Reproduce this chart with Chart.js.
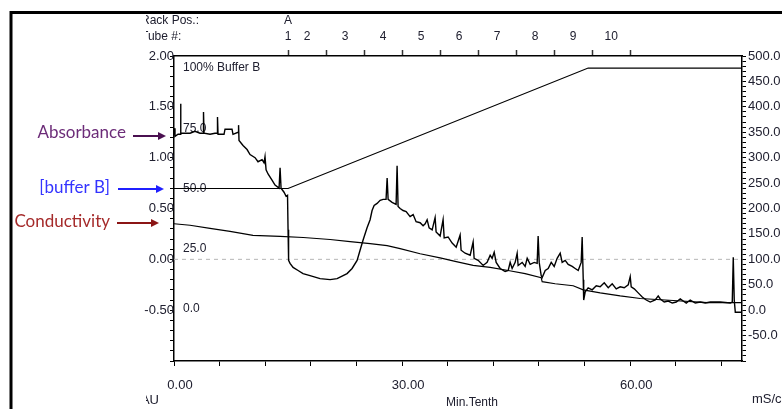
<!DOCTYPE html>
<html>
<head>
<meta charset="utf-8">
<title>Chromatogram</title>
<script src="https://cdn.jsdelivr.net/npm/chart.js@4.4.1/dist/chart.umd.min.js"></script>
<style>
  html, body { margin: 0; padding: 0; background: #fff; }
  #wrap { width: 782px; height: 409px; }
</style>
</head>
<body>
<div id="wrap"><canvas id="grafico" width="782" height="409"></canvas></div>
<script>
// Absorbancia (AU) frente al tiempo (Min.Tenth)
var tiempoAbs = [
    0, 0.13, 0.53, 0.79, 0.86, 0.92, 2.11, 2.76, 3.42, 3.82,
    3.88, 3.95, 4.74, 5.39, 5.66, 5.72, 5.79, 6.58, 6.71, 7.63,
    7.76, 8.42, 8.49, 8.55, 9.08, 9.61, 10.0, 10.66, 11.05, 11.58,
    11.84, 11.97, 12.11, 12.37, 12.89, 13.29, 13.82, 13.95, 14.08, 14.47,
    14.74, 14.93, 15.0, 15.07, 15.26, 15.66, 16.32, 16.97, 17.89, 19.21,
    20.53, 21.45, 22.24, 22.76, 23.42, 24.08, 24.47, 24.87, 25.39, 25.79,
    26.05, 26.32, 26.71, 27.11, 27.5, 27.89, 28.03, 28.16, 28.68, 29.21,
    29.34, 29.47, 29.74, 30.13, 30.53, 31.05, 31.45, 31.84, 32.37, 32.76,
    33.03, 33.29, 33.55, 33.95, 34.34, 34.47, 35.0, 35.39, 35.53, 36.05,
    36.58, 37.11, 37.63, 37.76, 38.29, 38.95, 39.34, 39.47, 40.0, 40.66,
    41.18, 41.58, 41.84, 42.11, 42.37, 42.89, 43.55, 43.95, 44.21, 44.47,
    44.87, 45.13, 45.26, 45.79, 46.18, 46.45, 46.84, 47.37, 47.76, 47.89,
    48.03, 48.29, 48.42, 48.82, 49.21, 49.61, 50.0, 50.39, 50.79, 51.05,
    51.45, 51.84, 52.37, 52.76, 53.16, 53.55, 53.68, 53.82, 53.88, 54.08,
    54.47, 55.0, 55.53, 56.05, 56.58, 57.11, 57.63, 58.16, 58.68, 59.21,
    59.74, 60.0, 60.13, 60.53, 61.05, 61.58, 62.11, 62.63, 63.29, 63.68,
    63.95, 64.47, 65.0, 65.53, 66.05, 66.58, 66.97, 67.37, 67.89, 68.55,
    69.21, 69.87, 70.53, 71.84, 73.16, 73.42, 73.55, 73.68, 73.82, 74.61
];
var absorbancia = [
    1.29, 1.21, 1.23, 1.23, 1.53, 1.24, 1.24, 1.26, 1.24, 1.24,
    1.45, 1.24, 1.23, 1.24, 1.24, 1.40, 1.23, 1.23, 1.28, 1.28,
    1.23, 1.25, 1.32, 1.17, 1.12, 1.08, 1.03, 1.00, 0.96, 0.98,
    0.95, 1.01, 0.88, 0.84, 0.78, 0.73, 0.70, 0.90, 0.70, 0.66,
    0.62, 0.63, 0.29, -0.01, -0.04, -0.08, -0.11, -0.14, -0.16, -0.19,
    -0.20, -0.19, -0.16, -0.14, -0.09, -0.01, 0.09, 0.19, 0.31, 0.39,
    0.48, 0.53, 0.55, 0.58, 0.59, 0.59, 0.80, 0.59, 0.56, 0.54,
    0.92, 0.52, 0.50, 0.48, 0.47, 0.42, 0.44, 0.37, 0.36, 0.33,
    0.35, 0.39, 0.31, 0.29, 0.41, 0.27, 0.23, 0.39, 0.21, 0.22,
    0.16, 0.12, 0.24, 0.09, 0.06, 0.04, 0.17, 0.01, -0.01, -0.06,
    -0.03, 0.04, 0.01, 0.07, -0.03, -0.09, -0.12, -0.11, -0.03, -0.09,
    -0.03, 0.06, -0.06, -0.03, -0.07, 0.01, -0.05, -0.03, -0.04, 0.23,
    -0.03, -0.16, -0.18, -0.11, -0.09, -0.03, -0.07, 0.01, 0.06, -0.03,
    -0.01, -0.05, -0.07, -0.09, -0.11, -0.03, 0.22, -0.20, -0.40, -0.32,
    -0.28, -0.30, -0.26, -0.27, -0.23, -0.28, -0.24, -0.29, -0.27, -0.28,
    -0.25, -0.17, -0.27, -0.29, -0.33, -0.37, -0.40, -0.42, -0.40, -0.36,
    -0.39, -0.42, -0.41, -0.43, -0.42, -0.39, -0.41, -0.43, -0.40, -0.43,
    -0.42, -0.43, -0.42, -0.42, -0.43, -0.42, 0.02, -0.40, -0.52, -0.52
];

// Conductividad (mS/cm)
var tiempoCond = [0, 2.11, 4.74, 7.37, 10.39, 13.95, 17.0, 20.53, 23.16, 25.79,
    28.03, 29.74, 32.37, 35.0, 36.97, 39.34, 41.58, 43.95, 46.18, 48.29,
    48.42, 50.13, 52.5, 53.82, 56.05, 58.68, 61.32, 65.66, 70.13, 74.61];
var conductividad = [170, 167, 161, 155, 147, 145, 143, 139, 135, 131,
    127, 121, 111, 103, 96, 88, 84, 78, 72, 64,
    56, 52, 48, 40, 34, 28, 23, 19, 15, 15];

// Gradiente de buffer B (%)
var tiempoGrad = [0, 15.0, 54.47, 74.61];
var bufferB = [50, 50, 100, 100];

// Linea de referencia punteada en 0.00 AU
var tiempoCero = [0, 74.7];
var valorCero = [0, 0];

// Ticks y etiquetas
var ticksX = [0, 6, 12, 18, 24, 30, 36, 42, 48, 54, 60, 66, 72];
var etiquetasX = [0, 30, 60];
var etiquetasAU = [-0.5, 0, 0.5, 1, 1.5, 2];
var etiquetasMS = [-50, 0, 50, 100, 150, 200, 250, 300, 350, 400, 450, 500];
var ticksB = [0, 25, 50, 75, 100];
var etiquetasB = ['0.0', '25.0', '50.0', '75.0', '100% Buffer B'];
var ticksTubo = [15, 17.5, 20, 22.5, 25, 27.5, 30, 32.5, 35, 37.5, 40, 42.5, 45, 47.5, 50, 52.5, 55, 57.5, 60];
var etiquetasTubo = ['1', '2', '', '3', '', '4', '', '5', '', '6', '', '7', '', '8', '', '9', '', '10', ''];
var marcasTubo = [15, 20, 25, 30, 35, 40, 45, 50, 55, 60];
var rackPos = 'A';
var rackValor = 15;

var xMax = 74.7;
var colorTexto = '#202030';

Chart.defaults.font.family = '"Liberation Sans", Arial, sans-serif';

function puntos(tiempos, valores) {
    return tiempos.map(function (t, i) { return { x: t, y: valores[i] }; });
}

function fijarTicks(lista) {
    return function (escala) {
        escala.ticks = lista.map(function (v) { return { value: v }; });
    };
}

// Flecha horizontal con punta
function flecha(ctx, x1, x2, y, color) {
    ctx.strokeStyle = color;
    ctx.fillStyle = color;
    ctx.lineWidth = 2;
    ctx.beginPath();
    ctx.moveTo(x1, y);
    ctx.lineTo(x2 - 6, y);
    ctx.stroke();
    ctx.beginPath();
    ctx.moveTo(x2, y);
    ctx.lineTo(x2 - 8, y - 4);
    ctx.lineTo(x2 - 8, y + 4);
    ctx.closePath();
    ctx.fill();
}

// Plugin para textos, marco y anotaciones
var textosPlugin = {
    id: 'textos',
    afterDraw: function (chart) {
        var ctx = chart.ctx;
        var xTop = chart.scales.xTop;
        ctx.save();

        // marco negro
        ctx.strokeStyle = '#000';
        ctx.lineWidth = 3;
        ctx.beginPath();
        ctx.moveTo(11, 409);
        ctx.lineTo(11, 12.5);
        ctx.lineTo(782, 12.5);
        ctx.stroke();

        ctx.fillStyle = colorTexto;
        ctx.textBaseline = 'middle';

        // textos cortados a la izquierda
        ctx.save();
        ctx.beginPath();
        ctx.rect(146, 0, 636, 409);
        ctx.clip();
        ctx.font = '12px "Liberation Sans", Arial, sans-serif';
        ctx.textAlign = 'left';
        ctx.fillText('Rack Pos.:', 141, 21);
        ctx.fillText('Tube #:', 141, 37);
        ctx.font = '13px "Liberation Sans", Arial, sans-serif';
        ctx.textAlign = 'right';
        ctx.fillText('AU', 159, 400);
        ctx.restore();

        ctx.font = '12px "Liberation Sans", Arial, sans-serif';
        ctx.textAlign = 'center';
        ctx.fillText(rackPos, xTop.getPixelForValue(rackValor), 21);
        ctx.fillText('Min.Tenth', 472, 403);
        ctx.font = '13px "Liberation Sans", Arial, sans-serif';
        ctx.textAlign = 'left';
        ctx.fillText('mS/cm', 752, 399);

        // anotaciones
        ctx.font = '17px Lato, "Open Sans", sans-serif';
        ctx.textAlign = 'right';
        ctx.fillStyle = '#6c2c78';
        ctx.fillText('Absorbance', 126, 133);
        flecha(ctx, 133, 166, 136, '#4a1050');
        ctx.fillStyle = '#3333ff';
        ctx.fillText('[buffer B]', 110, 188);
        flecha(ctx, 118, 164, 189, '#2020ff');
        ctx.fillStyle = '#a52a2a';
        ctx.fillText('Conductivity', 110, 222);
        flecha(ctx, 117, 159, 223, '#8b1515');

        ctx.restore();
    }
};

var grafico = new Chart(document.getElementById('grafico'), {
    type: 'line',
    data: {
        datasets: [{
            label: 'Absorbance',
            data: puntos(tiempoAbs, absorbancia),
            yAxisID: 'y',
            borderColor: '#000',
            borderWidth: 1.4,
            pointRadius: 0,
            order: 1
        }, {
            label: 'Conductivity',
            data: puntos(tiempoCond, conductividad),
            yAxisID: 'yR',
            borderColor: '#000',
            borderWidth: 1.2,
            pointRadius: 0,
            order: 2
        }, {
            label: '[buffer B]',
            data: puntos(tiempoGrad, bufferB),
            yAxisID: 'yB',
            borderColor: '#000',
            borderWidth: 1.2,
            pointRadius: 0,
            order: 3
        }, {
            label: 'cero',
            data: puntos(tiempoCero, valorCero),
            yAxisID: 'y',
            borderColor: '#b5b5b5',
            borderWidth: 1,
            borderDash: [4, 4],
            pointRadius: 0,
            order: 9
        }]
    },
    options: {
        responsive: false,
        animation: false,
        devicePixelRatio: 1,
        layout: { padding: 0 },
        plugins: {
            legend: { display: false },
            tooltip: { enabled: false }
        },
        scales: {
            x: {
                type: 'linear',
                position: 'bottom',
                min: 0,
                max: xMax,
                afterFit: function (s) { s.height = 48; },
                afterBuildTicks: fijarTicks(ticksX),
                grid: { drawOnChartArea: false, tickLength: 5, tickColor: '#000', tickWidth: 1 },
                border: { color: '#000', width: 1.5 },
                ticks: {
                    autoSkip: false, maxRotation: 0, padding: 12, labelOffset: 6,
                    color: colorTexto, font: { size: 13 },
                    callback: function (v) { return etiquetasX.indexOf(v) >= 0 ? v.toFixed(2) : ''; }
                }
            },
            xTop: {
                type: 'linear',
                position: 'top',
                min: 0,
                max: xMax,
                afterFit: function (s) { s.height = 56; },
                afterBuildTicks: fijarTicks(ticksTubo),
                grid: {
                    drawOnChartArea: false, tickLength: 6, tickWidth: 1.5,
                    tickColor: function (c) {
                        return c.tick && marcasTubo.indexOf(c.tick.value) >= 0 ? '#333' : 'rgba(0,0,0,0)';
                    }
                },
                border: { color: '#000', width: 1.5 },
                ticks: {
                    autoSkip: false, maxRotation: 0, padding: 6,
                    color: colorTexto, font: { size: 12 },
                    callback: function (v, i) { return etiquetasTubo[i]; }
                }
            },
            y: {
                position: 'left',
                weight: 1,
                min: -1,
                max: 2,
                afterFit: function (s) { s.width = 174; },
                grid: { drawOnChartArea: false, tickLength: 4, tickColor: '#000' },
                border: { color: '#000', width: 1.5 },
                ticks: {
                    stepSize: 0.1, maxTicksLimit: 100, autoSkip: false, padding: -4,
                    color: colorTexto, font: { size: 13 },
                    callback: function (v) {
                        var r = Math.round(v * 100) / 100;
                        return etiquetasAU.indexOf(r) >= 0 ? r.toFixed(2) : '';
                    }
                }
            },
            yB: {
                position: 'left',
                weight: 0,
                min: -21.6,
                max: 105,
                afterFit: function (s) { s.width = 0; },
                afterBuildTicks: fijarTicks(ticksB),
                grid: { display: false },
                border: { display: false },
                ticks: {
                    mirror: true, padding: 9, autoSkip: false,
                    color: colorTexto, font: { size: 12 },
                    callback: function (v, i) { return etiquetasB[i]; }
                }
            },
            yR: {
                position: 'right',
                min: -100,
                max: 500,
                afterFit: function (s) { s.width = 40; },
                grid: { drawOnChartArea: false, tickLength: 4, tickColor: '#000' },
                border: { color: '#000', width: 1.5 },
                ticks: {
                    stepSize: 10, maxTicksLimit: 100, autoSkip: false, padding: 2,
                    color: colorTexto, font: { size: 13 },
                    callback: function (v) {
                        var r = Math.round(v);
                        return etiquetasMS.indexOf(r) >= 0 ? r.toFixed(1) : '';
                    }
                }
            }
        }
    },
    plugins: [textosPlugin]
});
</script>
</body>
</html>
